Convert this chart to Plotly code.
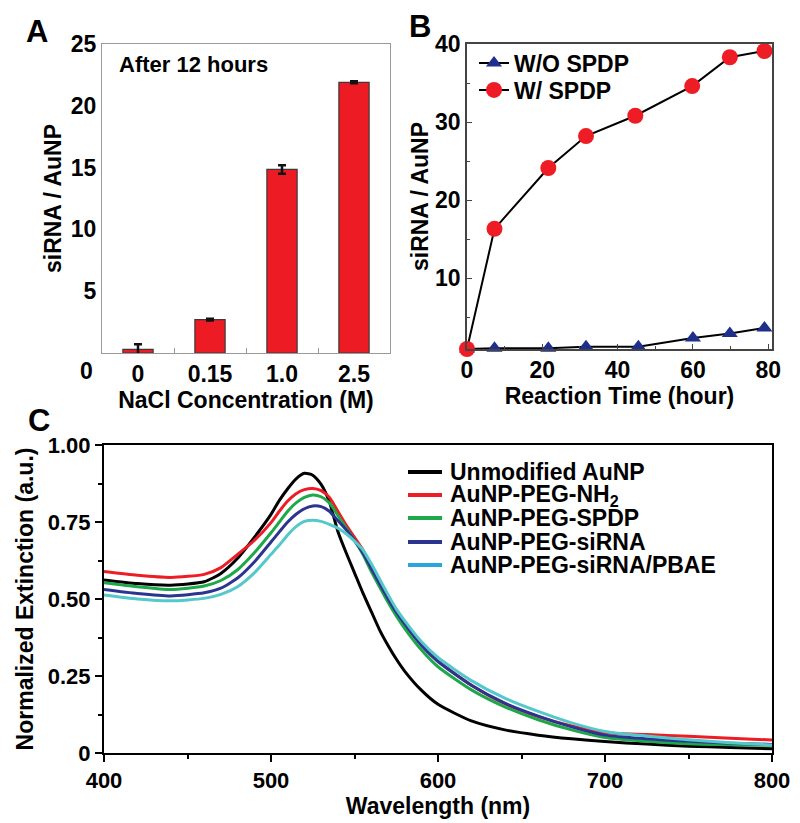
import plotly.graph_objects as go

# ---------------- Panel A data ----------------
nacl_labels = ["0", "0.15", "1.0", "2.5"]
sirna_per_np = [0.3, 2.7, 14.85, 21.9]
sirna_err = [0.4, 0.08, 0.34, 0.08]

# ---------------- Panel B data ----------------
time_wo = [0, 7.3, 21.6, 31.6, 45.5, 60, 69.8, 79]
val_wo = [0.9, 1.0, 1.0, 1.2, 1.2, 2.3, 2.9, 3.6]
time_w = [0, 7.3, 21.6, 31.6, 44.7, 59.8, 69.8, 79]
val_w = [0.9, 16.3, 24.1, 28.2, 30.8, 34.6, 38.3, 39.1]

# ---------------- Panel C data ----------------
wavelength = [400, 420, 440, 460, 470, 480, 490, 500, 505, 510, 515, 520, 525, 530, 535,
              540, 545, 550, 555, 560, 565, 570, 575, 580, 590, 600, 620, 640, 660, 680,
              700, 725, 750, 775, 800]
ext_unmod = [.562, .550, .545, .556, .583, .632, .700, .775, .820, .858, .890, .908, .902, .872, .815,
             .720, .650, .585, .520, .460, .400, .350, .305, .266, .204, .158, .104, .075, .058, .046,
             .037, .029, .022, .018, .014]
ext_nh2 = [.589, .577, .570, .580, .602, .645, .690, .748, .785, .818, .842, .855, .859, .852, .830,
           .785, .740, .700, .660, .605, .555, .505, .458, .418, .352, .298, .220, .160, .118, .088,
           .066, .060, .054, .048, .042]
ext_spdp = [.553, .540, .531, .542, .560, .595, .650, .715, .750, .785, .812, .830, .838, .832, .812,
            .772, .730, .690, .645, .590, .540, .490, .445, .405, .335, .280, .205, .150, .108, .075,
            .050, .038, .030, .027, .025]
ext_sirna = [.531, .518, .510, .520, .535, .568, .620, .685, .718, .750, .775, .793, .802, .800, .785,
             .755, .725, .690, .650, .600, .550, .502, .458, .420, .350, .297, .220, .162, .120, .085,
             .058, .046, .038, .032, .028]
ext_pbae = [.513, .500, .494, .502, .515, .540, .585, .645, .675, .708, .735, .752, .756, .752, .742,
            .730, .712, .688, .660, .615, .565, .515, .468, .430, .362, .310, .235, .178, .135, .098,
            .070, .055, .043, .033, .026]

c_names = ["Unmodified AuNP", "AuNP-PEG-NH<sub>2</sub>", "AuNP-PEG-SPDP",
           "AuNP-PEG-siRNA", "AuNP-PEG-siRNA/PBAE"]
c_series = [ext_unmod, ext_nh2, ext_spdp, ext_sirna, ext_pbae]
c_colors = ["#000000", "#ee1c24", "#1fa84a", "#2b3590", "#55c8cc"]
c_legend_colors = ["#000000", "#ee1c24", "#1fa84a", "#2b3590", "#2aa6de"]

FONT = "Liberation Sans, Arial, sans-serif"
W, H = 800, 823
OFF = 8  # page body margin offset

def px_x(p):
    return (p - OFF) / W

def px_y(p):
    return 1 - (p - OFF) / H

fig = go.Figure()

# Panel A bars
fig.add_trace(go.Bar(
    x=nacl_labels, y=sirna_per_np, width=0.42,
    marker=dict(color="#ed1c24", line=dict(color="#3a3a3a", width=1.2)),
    error_y=dict(type="data", array=sirna_err, color="#111111", thickness=2.5, width=4),
    xaxis="x", yaxis="y", showlegend=False,
))

# Panel B lines
fig.add_trace(go.Scatter(
    x=time_wo, y=val_wo, mode="lines+markers", name="W/O SPDP",
    line=dict(color="black", width=2),
    marker=dict(symbol="triangle-up", size=14, color="#1f2f8c"),
    xaxis="x2", yaxis="y2", cliponaxis=False, legend="legend",
))
fig.add_trace(go.Scatter(
    x=time_w, y=val_w, mode="lines+markers", name="W/ SPDP",
    line=dict(color="black", width=2),
    marker=dict(symbol="circle", size=16, color="#ee1c24"),
    xaxis="x2", yaxis="y2", cliponaxis=False, legend="legend2",
))

# Panel C spectra
for name, ys, col in zip(c_names, c_series, c_colors):
    fig.add_trace(go.Scatter(
        x=wavelength, y=ys, mode="lines", name=name,
        line=dict(color=col, width=3, shape="spline", smoothing=0.6),
        xaxis="x3", yaxis="y3", showlegend=False,
    ))

tickfont = dict(family=FONT, size=23, color="black", weight="bold")
titlefont = dict(family=FONT, size=23, color="black", weight="bold")
legfont = dict(family=FONT, size=23, color="black", weight="bold")

fig.update_layout(
    width=W, height=H,
    margin=dict(l=0, r=0, t=0, b=0, autoexpand=False),
    paper_bgcolor="white", plot_bgcolor="white",
    font=dict(family=FONT, color="black", weight="bold"),
    # ---- A ----
    xaxis=dict(domain=[px_x(102), px_x(390)], anchor="y", type="category", automargin=False,
               range=[-0.5, 3.5], showline=True, linecolor="#9a9a9a", linewidth=1.2,
               mirror=True, ticks="inside", tickson="boundaries", ticklen=5,
               tickcolor="#9a9a9a", tickfont=tickfont, showgrid=False,
               title=dict(text="NaCl Concentration (M)", font=titlefont, standoff=2)),
    yaxis=dict(domain=[px_y(353), px_y(44)], anchor="x", range=[0, 25], automargin=False,
               tickvals=[5, 10, 15, 20, 25], showline=True, linecolor="#9a9a9a",
               linewidth=1.2, mirror=True, ticks="", tickfont=tickfont, showgrid=False,
               zeroline=False,
               title=dict(text="siRNA / AuNP", font=titlefont, standoff=2)),
    # ---- B ----
    xaxis2=dict(domain=[px_x(467), px_x(772)], anchor="y2", range=[0, 81], automargin=False,
                tickvals=[0, 20, 40, 60, 80], showline=True, linecolor="#444444",
                linewidth=1.5, mirror=True, ticks="inside", ticklen=5, tickcolor="#444444",
                minor=dict(tickvals=[10, 30, 50, 70], ticks="inside", ticklen=3, tickcolor="#444444"),
                tickfont=tickfont, showgrid=False, zeroline=False,
                title=dict(text="Reaction Time (hour)", font=titlefont, standoff=2)),
    yaxis2=dict(domain=[px_y(349), px_y(44)], anchor="x2", range=[0.9, 40], automargin=False,
                tickvals=[10, 20, 30, 40], showline=True, linecolor="#444444",
                linewidth=1.5, mirror=True, ticks="inside", ticklen=5, tickcolor="#444444",
                minor=dict(tickvals=[5, 15, 25, 35], ticks="inside", ticklen=3, tickcolor="#444444"),
                tickfont=tickfont, showgrid=False, zeroline=False,
                title=dict(text="siRNA / AuNP", font=titlefont, standoff=0)),
    # ---- C ----
    xaxis3=dict(domain=[px_x(104), px_x(772)], anchor="y3", range=[400, 800], automargin=False,
                tickvals=[400, 500, 600, 700, 800], showline=True, linecolor="black",
                linewidth=2, mirror=True, ticks="outside", ticklen=7, tickwidth=2,
                tickcolor="black",
                minor=dict(tickvals=[450, 550, 650, 750], ticks="outside", ticklen=4,
                           tickwidth=2, tickcolor="black"),
                tickfont=dict(family=FONT, size=22, color="black", weight="bold"),
                showgrid=False, zeroline=False,
                title=dict(text="Wavelength (nm)", font=titlefont, standoff=2)),
    yaxis3=dict(domain=[px_y(753), px_y(445)], anchor="x3", range=[0, 1.0], automargin=False,
                tickvals=[0, 0.25, 0.5, 0.75, 1.0],
                ticktext=["0", "0.25", "0.50", "0.75", "1.00"],
                showline=True, linecolor="black", linewidth=2, mirror=True,
                ticks="outside", ticklen=7, tickwidth=2, tickcolor="black",
                minor=dict(tickvals=[0.125, 0.375, 0.625, 0.875], ticks="outside",
                           ticklen=4, tickwidth=2, tickcolor="black"),
                tickfont=dict(family=FONT, size=22, color="black", weight="bold"),
                showgrid=False, zeroline=False,
                title=dict(text="Normalized Extinction (a.u.)", font=titlefont, standoff=8)),
    legend=dict(x=px_x(474), y=px_y(63), xanchor="left", yanchor="middle",
                bgcolor="rgba(0,0,0,0)", font=legfont, itemwidth=30),
    legend2=dict(x=px_x(474), y=px_y(90), xanchor="left", yanchor="middle",
                 bgcolor="rgba(0,0,0,0)", font=legfont, itemwidth=30),
)

annotations = [
    dict(text="A", x=px_x(37), y=px_y(31), font=dict(family=FONT, size=31, weight="bold")),
    dict(text="B", x=px_x(420), y=px_y(26), font=dict(family=FONT, size=31, weight="bold")),
    dict(text="C", x=px_x(39), y=px_y(420), font=dict(family=FONT, size=31, weight="bold")),
    dict(text="After 12 hours", x=px_x(117), y=px_y(65), xanchor="left",
         font=dict(family=FONT, size=22, weight="bold")),
    dict(text="0", x=px_x(95), y=px_y(371), xanchor="right",
         font=dict(family=FONT, size=23, weight="bold")),
]
for a in annotations:
    a.setdefault("xanchor", "center")
    a.update(xref="paper", yref="paper", yanchor="middle", showarrow=False)
    a["font"]["color"] = "black"

# Manual legend for panel C
row_y = [472, 495, 518, 542, 565]
shapes = []
for name, col, ry in zip(c_names, c_legend_colors, row_y):
    shapes.append(dict(type="line", xref="paper", yref="paper",
                       x0=px_x(408), x1=px_x(442), y0=px_y(ry), y1=px_y(ry),
                       line=dict(color=col, width=4)))
    annotations.append(dict(text=name, x=px_x(448), y=px_y(ry), xref="paper", yref="paper",
                            xanchor="left", yanchor="middle", showarrow=False,
                            font=dict(family=FONT, size=23, color="black", weight="bold")))

fig.update_layout(annotations=annotations, shapes=shapes)

fig.write_html("out.html")
